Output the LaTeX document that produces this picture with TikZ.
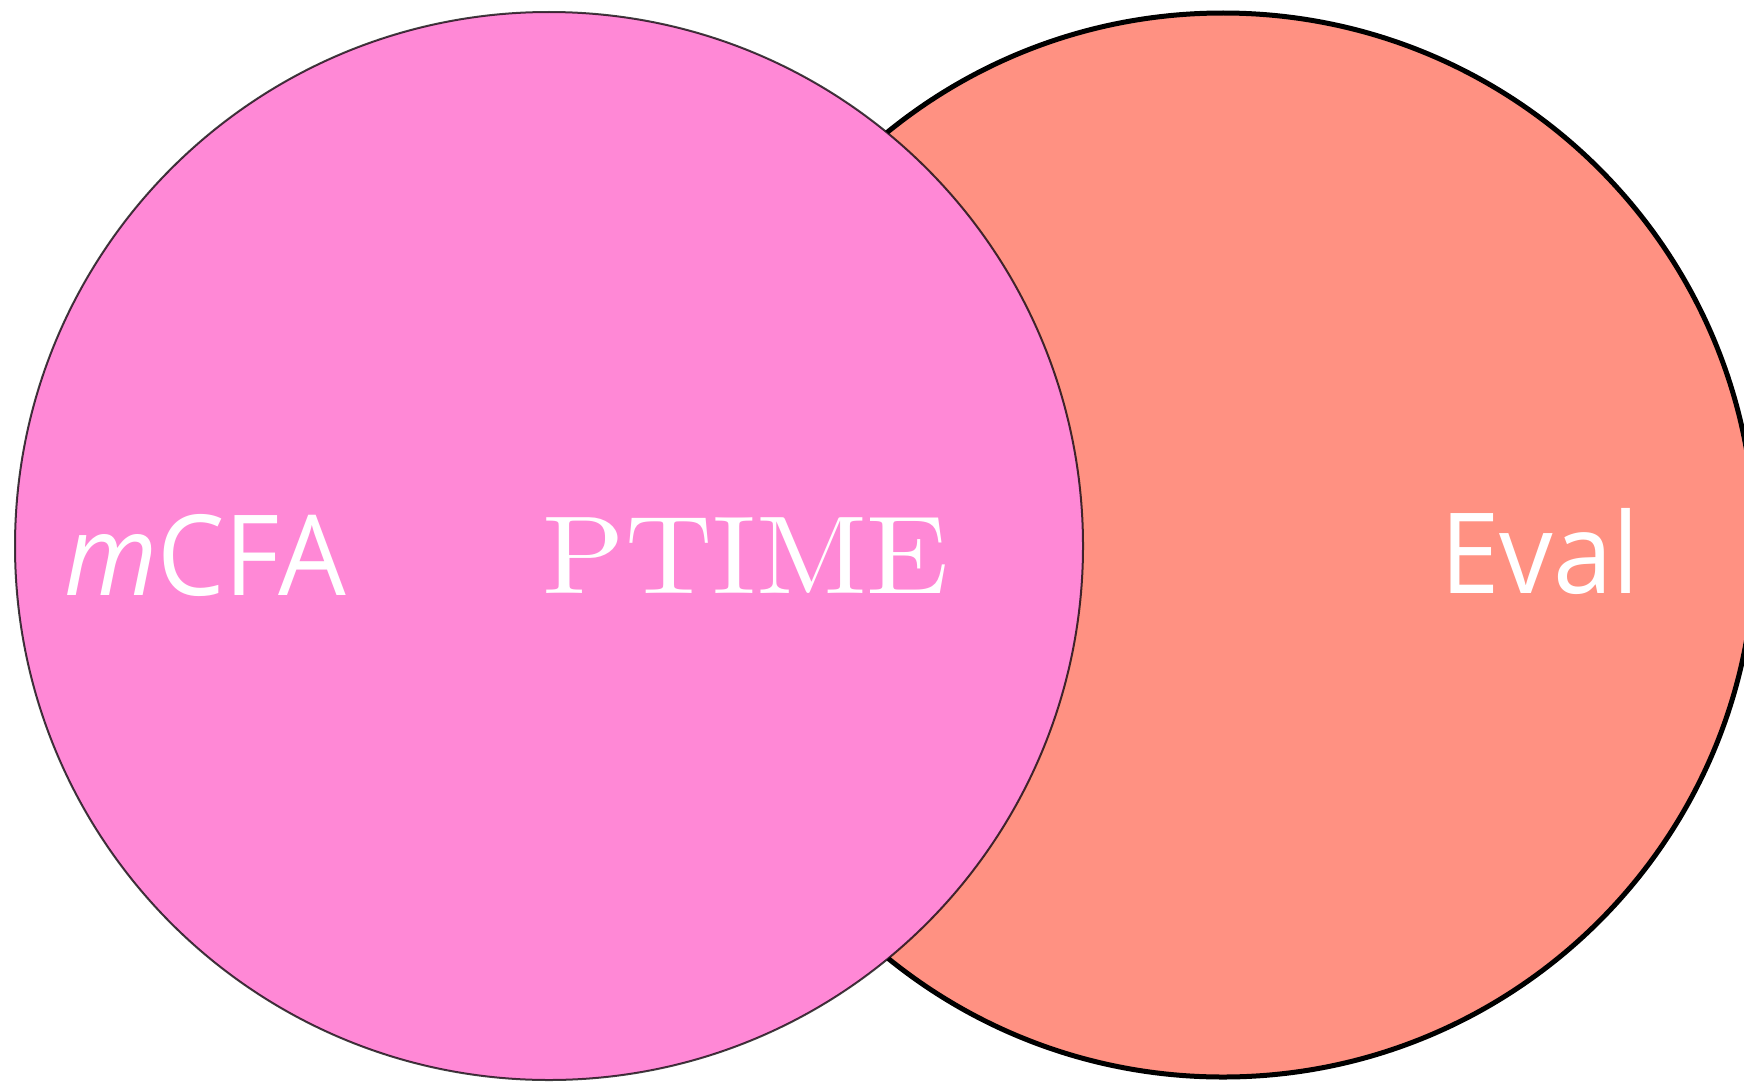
\documentclass[tikz,border=0pt]{standalone}
\usepackage{fontspec}
\newfontfamily\labelsans{Open Sans}
\newfontfamily\labelserif{lmroman10-regular.otf}
\definecolor{pinkfill}{RGB}{255,136,214}
\definecolor{salmonfill}{RGB}{255,145,130}
\tikzset{
  setcircle/.style={circle, inner sep=0pt, minimum size=#1},
  setlabel/.style={text=white, anchor=base, inner sep=0pt}
}
\begin{document}
\begin{tikzpicture}[x=1pt,y=-1pt]
\useasboundingbox (0,0) rectangle (1744,1081);
\clip (0,0) rectangle (1744,1081);
\fill[white] (0,0) rectangle (1744,1081);
\node[setcircle=1064pt, fill=salmonfill, draw=black, line width=5pt] (eval) at (1223,545) {};
\node[setcircle=1068pt, fill=pinkfill, draw=black, draw opacity=0.75, line width=2pt] (mcfa) at (549,546) {};
\node[setlabel, font=\labelsans\fontsize{112}{120}\selectfont] (mcfalabel) at (205,595) {\scalebox{0.955}[1]{\textit{m}CFA}};
\node[setlabel, font=\labelserif\fontsize{111}{120}\selectfont] (ptime) at (746,593) {\scalebox{1.09}[1]{PTIME}};
\node[setlabel, font=\labelsans\fontsize{112}{120}\selectfont] (evallabel) at (1540,593) {\scalebox{0.955}[1]{Eval}};
\end{tikzpicture}
\end{document}
